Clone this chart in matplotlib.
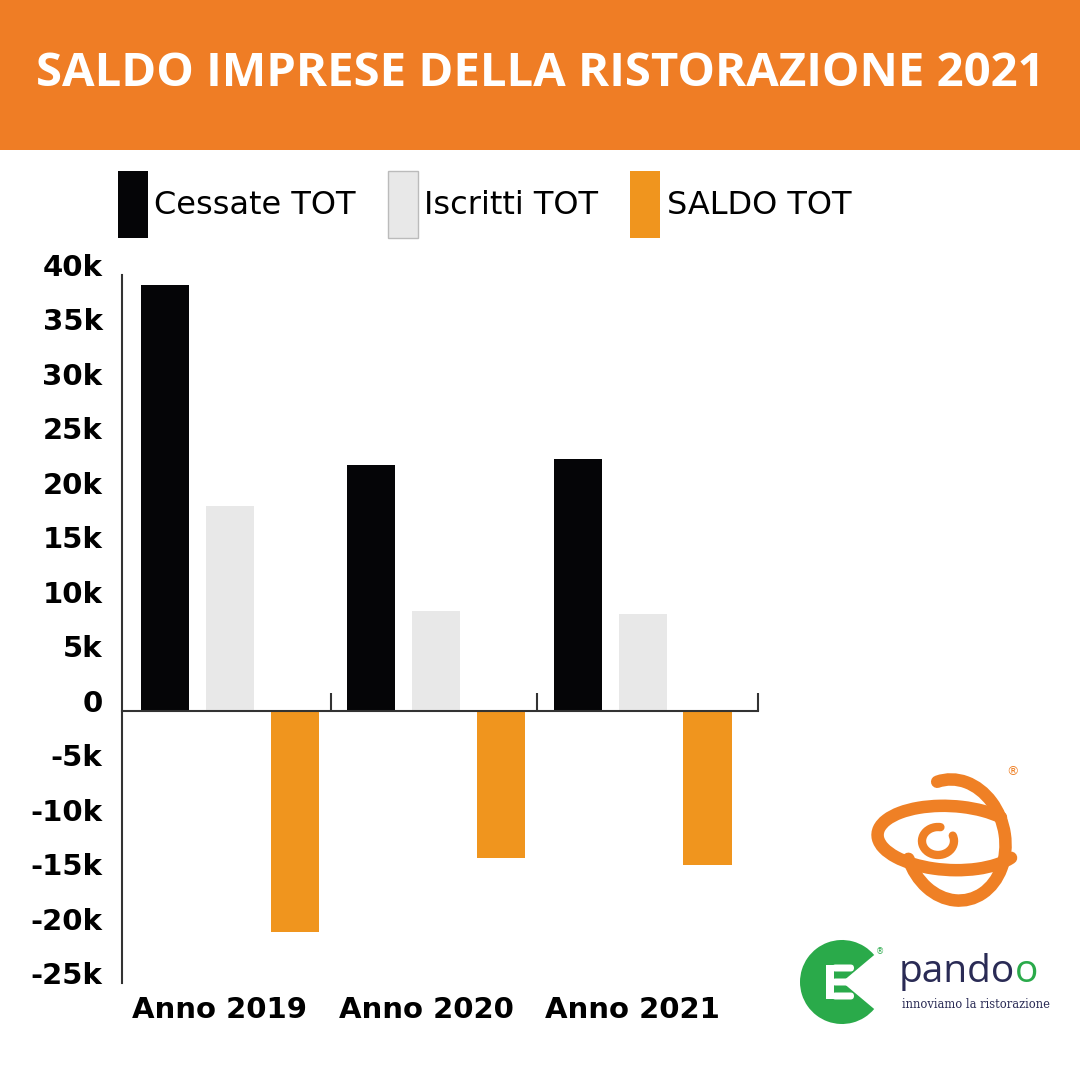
import numpy as np
import matplotlib.pyplot as plt
from matplotlib.patches import Rectangle, Arc, Wedge, FancyBboxPatch
from matplotlib.transforms import ScaledTranslation, blended_transform_factory

plt.rcParams["font.family"] = ["DejaVu Sans"]

anni = ["Anno 2019", "Anno 2020", "Anno 2021"]
cessate = [39100, 22600, 23100]
iscritti = [18800, 9150, 8900]
saldo = [-20300, -13500, -14200]
serie = ["Cessate TOT", "Iscritti TOT", "SALDO TOT"]
yticks = [40000, 35000, 30000, 25000, 20000, 15000, 10000, 5000, 0,
          -5000, -10000, -15000, -20000, -25000]
ytick_labels = ["40k", "35k", "30k", "25k", "20k", "15k", "10k", "5k", "0",
                "-5k", "-10k", "-15k", "-20k", "-25k"]

c_black = "#050507"
c_gray = "#E8E8E8"
c_orange = "#F0951E"
c_head = "#EF7D25"
c_navy = "#2A2B55"
c_green = "#2AAA4A"

fig = plt.figure(figsize=(10.8, 10.8), dpi=100)

# overlay in pixel coords for header and logos
bg = fig.add_axes([0, 0, 1, 1], zorder=0)
bg.set_xlim(0, 1080)
bg.set_ylim(1080, 0)
bg.axis("off")
bg.add_patch(Rectangle((0, 0), 1080, 150, color=c_head, lw=0))
bg.text(540, 74, "SALDO IMPRESE DELLA RISTORAZIONE 2021", color="white",
        fontsize=34, fontweight="bold", family=["Open Sans", "DejaVu Sans"],
        fontstretch="normal", ha="center", va="center")

# swirl logo (approximate)
sw = dict(color="#EF8025", lw=9, capstyle="round")
bg.add_patch(Arc((950, 838), 145, 64, angle=3, theta1=15, theta2=335, **sw))
bg.add_patch(Arc((938, 841), 32, 28, theta1=-20, theta2=280, lw=6,
                 color="#EF8025", capstyle="round"))
bg.add_patch(Arc((955, 840), 100, 122, angle=-12, theta1=-95, theta2=170, **sw))
bg.text(1013, 772, "®", color="#EF8025", fontsize=9, ha="center", va="center")

# pandoo logo (approximate)
bg.add_patch(Wedge((842, 982), 42, 40, 320, color=c_green, lw=0))
for yy in (968, 982, 996):
    bg.add_patch(FancyBboxPatch((832, yy - 3.5), 22, 7,
                                boxstyle="round,pad=0,rounding_size=3.5",
                                color="white", lw=0))
bg.add_patch(Rectangle((826, 965), 8, 34, color="white", lw=0))
bg.text(880, 952, "®", color=c_green, fontsize=6, ha="center", va="center")
t1 = bg.text(899, 982, "pando", color=c_navy, fontsize=28, family="Open Sans",
             ha="left", va="baseline")
bg.annotate("o", xy=(1, 0), xycoords=t1, color=c_green, fontsize=28,
            family="Open Sans", ha="left", va="bottom")
bg.text(902, 1004, "innoviamo la ristorazione", color=c_navy, fontsize=8.3,
        family="DejaVu Serif", ha="left", va="center")

# chart
ax = fig.add_axes([122 / 1080, 1 - 983 / 1080, (758 - 122) / 1080, (983 - 275) / 1080],
                  zorder=1)
ax.patch.set_alpha(0)
x = np.arange(len(anni))
w = 0.233
off = 0.315
ax.bar(x - off, cessate, w, color=c_black, label=serie[0])
ax.bar(x, iscritti, w, color=c_gray, label=serie[1])
ax.bar(x + off, saldo, w, color=c_orange, label=serie[2])

ax.set_xlim(-0.525, 2.56)
ax.set_ylim(-25000, 40000)
for s in ["top", "right"]:
    ax.spines[s].set_visible(False)
ax.spines["bottom"].set_position(("data", 0))
for s in ["left", "bottom"]:
    ax.spines[s].set_color("#333333")
    ax.spines[s].set_linewidth(1.5)

ax.set_xticks(x)
ax.set_xticklabels([])
ax.tick_params(axis="x", which="major", length=0)
ax.set_xticks([0.49, 1.49, 2.56], minor=True)
ax.tick_params(axis="x", which="minor", direction="in", length=13, width=1.5,
               color="#333333")

ax.set_yticks(yticks)
ax.set_yticklabels(ytick_labels)
ax.tick_params(axis="y", length=0, pad=14, labelsize=21)
for lab in ax.get_yticklabels():
    lab.set_fontweight("bold")
    lab.set_transform(lab.get_transform() + ScaledTranslation(0, 0.10, fig.dpi_scale_trans))

tr = blended_transform_factory(ax.transData, fig.transFigure)
for xi, a in zip(x, anni):
    ax.text(xi - 0.05, 1 - 1010 / 1080, a, transform=tr, ha="center", va="center",
            fontsize=21, fontweight="bold")

h1 = Rectangle((0, 0), 1, 1, facecolor=c_black, lw=0)
h2 = Rectangle((0, 0), 1, 1, facecolor=c_gray, edgecolor="#BBBBBB", lw=1)
h3 = Rectangle((0, 0), 1, 1, facecolor=c_orange, lw=0)
fig.legend([h1, h2, h3], serie, loc="upper left",
           bbox_to_anchor=(118 / 1080, 1 - 171 / 1080), ncol=3, frameon=False,
           handlelength=0.94, handleheight=2.85, handletextpad=0.2,
           columnspacing=1.0, borderpad=0, borderaxespad=0,
           prop={"size": 23})

fig.savefig("out.png", dpi=100)
